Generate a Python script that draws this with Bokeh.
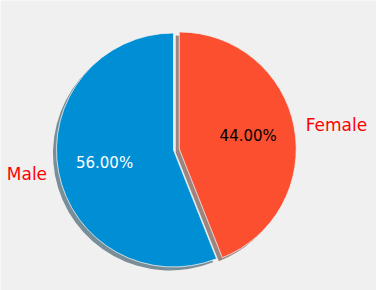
import math
from bokeh.plotting import figure
from bokeh.models import ColumnDataSource
from bokeh.core.properties import value
from bokeh.embed import file_html
from bokeh.resources import INLINE

labels = ["Male", "Female"]
values = [56, 44]
colors = ["#008fd5", "#fc4f30"]
shadow_colors = ["#002b40", "#4c180e"]
pct_colors = ["white", "black"]
explode = [0.0, 0.05]

W, H = 376, 290
R_PX = 117.0
CX, CY = 173.0, 149.5

p = figure(width=W, height=H, output_backend="svg", toolbar_location=None,
           x_range=(-CX / R_PX, (W - CX) / R_PX),
           y_range=(-(H - CY) / R_PX, CY / R_PX),
           min_border=0, background_fill_color="#f0f0f0",
           border_fill_color="#f0f0f0", outline_line_color=None)
p.axis.visible = False
p.grid.visible = False

total = float(sum(values))
start = math.pi / 2
rows = []
for lab, v, c, pc, ex in zip(labels, values, colors, pct_colors, explode):
    span = 2 * math.pi * v / total
    end = start + span
    mid = start + span / 2
    cx = ex * math.cos(mid)
    cy = ex * math.sin(mid)
    rows.append(dict(label=lab, val=v, color=c, pc=pc, start=start, end=end,
                     mid=mid, cx=cx, cy=cy))
    start = end

# shadows
sh = ColumnDataSource(dict(
    x=[r["cx"] - 0.03 for r in rows], y=[r["cy"] - 0.03 for r in rows],
    s=[r["start"] for r in rows], e=[r["end"] for r in rows],
    color=shadow_colors))
p.wedge(x="x", y="y", radius=1.0, start_angle="s", end_angle="e",
        direction="anticlock", source=sh, fill_color="color", fill_alpha=0.5,
        line_color=None)

src = ColumnDataSource(dict(
    x=[r["cx"] for r in rows], y=[r["cy"] for r in rows],
    s=[r["start"] for r in rows], e=[r["end"] for r in rows],
    color=[r["color"] for r in rows]))
p.wedge(x="x", y="y", radius=1.0, start_angle="s", end_angle="e",
        direction="anticlock", source=src, fill_color="color",
        line_color="#f0f0f0", line_width=0.8)

for r in rows:
    cm, sm = math.cos(r["mid"]), math.sin(r["mid"])
    p.text(x=[r["cx"] + 0.6 * cm], y=[r["cy"] + 0.6 * sm],
           text=["%.2f%%" % (100.0 * r["val"] / total)],
           text_font=value("DejaVu Sans"), text_font_size="15px",
           text_color=r["pc"], text_align="center", text_baseline="middle")
    p.text(x=[r["cx"] + 1.1 * cm], y=[r["cy"] + 1.1 * sm], text=[r["label"]],
           text_font=value("DejaVu Sans"), text_font_size="17px",
           text_color="red", text_align="left" if cm > 0 else "right",
           text_baseline="middle")

open("out.html", "w").write(file_html(p, INLINE))
